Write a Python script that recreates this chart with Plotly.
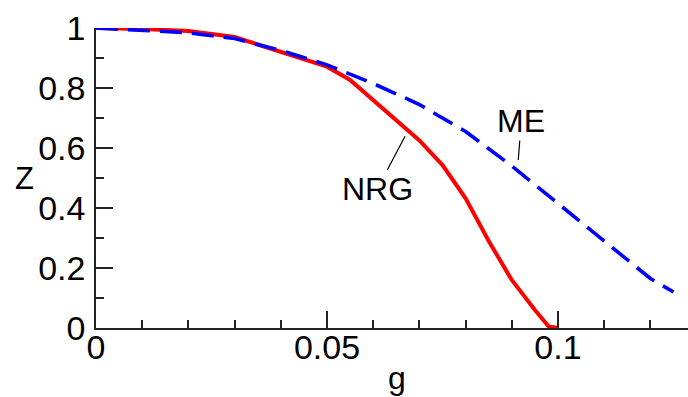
import plotly.graph_objects as go

# NRG (red, solid)
g_nrg = [0, 0.01, 0.02, 0.03, 0.035, 0.04, 0.045, 0.05, 0.055, 0.06, 0.065, 0.07,
         0.075, 0.08, 0.085, 0.09, 0.095, 0.098, 0.1]
z_nrg = [1.0, 0.997, 0.99, 0.97, 0.945, 0.92, 0.893, 0.871, 0.827, 0.76, 0.695, 0.625,
         0.543, 0.432, 0.29, 0.16, 0.06, 0.005, 0.0]

# ME (blue, dashed)
g_me = [0, 0.01, 0.02, 0.03, 0.04, 0.05, 0.06, 0.07, 0.08, 0.09, 0.1, 0.11, 0.12, 0.125]
z_me = [1.0, 0.993, 0.984, 0.965, 0.925, 0.877, 0.815, 0.745, 0.655, 0.54, 0.415, 0.29, 0.165, 0.12]

x_tickvals = [0, 0.05, 0.1]
x_ticktext = ["0", "0.05", "0.1"]
y_tickvals = [0, 0.2, 0.4, 0.6, 0.8, 1]
y_ticktext = ["0", "0.2", "0.4", "0.6", "0.8", "1"]

FONT = "Arial, Liberation Sans, sans-serif"
AX = "#222222"

fig = go.Figure()
fig.add_trace(go.Scatter(x=g_nrg, y=z_nrg, mode="lines", cliponaxis=False,
                         line=dict(color="#ff0000", width=4), showlegend=False))
fig.add_trace(go.Scatter(x=g_me, y=z_me, mode="lines", cliponaxis=False,
                         line=dict(color="#0000ff", width=3.6, dash="22px,10px"),
                         showlegend=False))

fig.update_layout(
    width=688, height=397,
    margin=dict(l=96, r=0, t=28, b=69),
    paper_bgcolor="white", plot_bgcolor="white",
    font=dict(family=FONT, size=34, color="black"),
    xaxis=dict(range=[0, 0.12814], tickvals=x_tickvals, ticktext=x_ticktext,
               ticks="inside", ticklen=17, tickwidth=1.5, tickcolor=AX,
               showline=True, linecolor=AX, linewidth=1.5,
               showgrid=False, zeroline=False, ticklabelstandoff=-12,
               minor=dict(dtick=0.01, tick0=0, ticks="inside", ticklen=8,
                          tickwidth=1.5, tickcolor=AX, showgrid=False)),
    yaxis=dict(range=[0, 1], tickvals=y_tickvals, ticktext=y_ticktext,
               ticks="inside", ticklen=17, tickwidth=1.5, tickcolor=AX,
               showline=True, linecolor=AX, linewidth=1.5,
               showgrid=False, zeroline=False, ticklabelstandoff=2,
               minor=dict(dtick=0.1, tick0=0, ticks="inside", ticklen=8,
                          tickwidth=1.5, tickcolor=AX, showgrid=False)),
)

fig.add_annotation(text="Z", xref="paper", yref="paper", x=0, y=0.5,
                   xshift=-72, showarrow=False, font=dict(size=31),
                   xanchor="center", yanchor="middle")
fig.add_annotation(text="g", xref="paper", yref="paper", x=0.5, y=0,
                   xshift=5, yshift=-50, showarrow=False, font=dict(size=32),
                   xanchor="center", yanchor="middle")

fig.add_annotation(text="NRG", x=0.0669, y=0.639, ax=-28, ay=53,
                   showarrow=True, arrowhead=0, arrowwidth=1.2, arrowcolor="black",
                   font=dict(size=32))
fig.add_annotation(text="ME", x=0.0914, y=0.56, ax=3, ay=-39,
                   showarrow=True, arrowhead=0, arrowwidth=1.2, arrowcolor="black",
                   font=dict(size=32))

fig.write_html("out.html")
